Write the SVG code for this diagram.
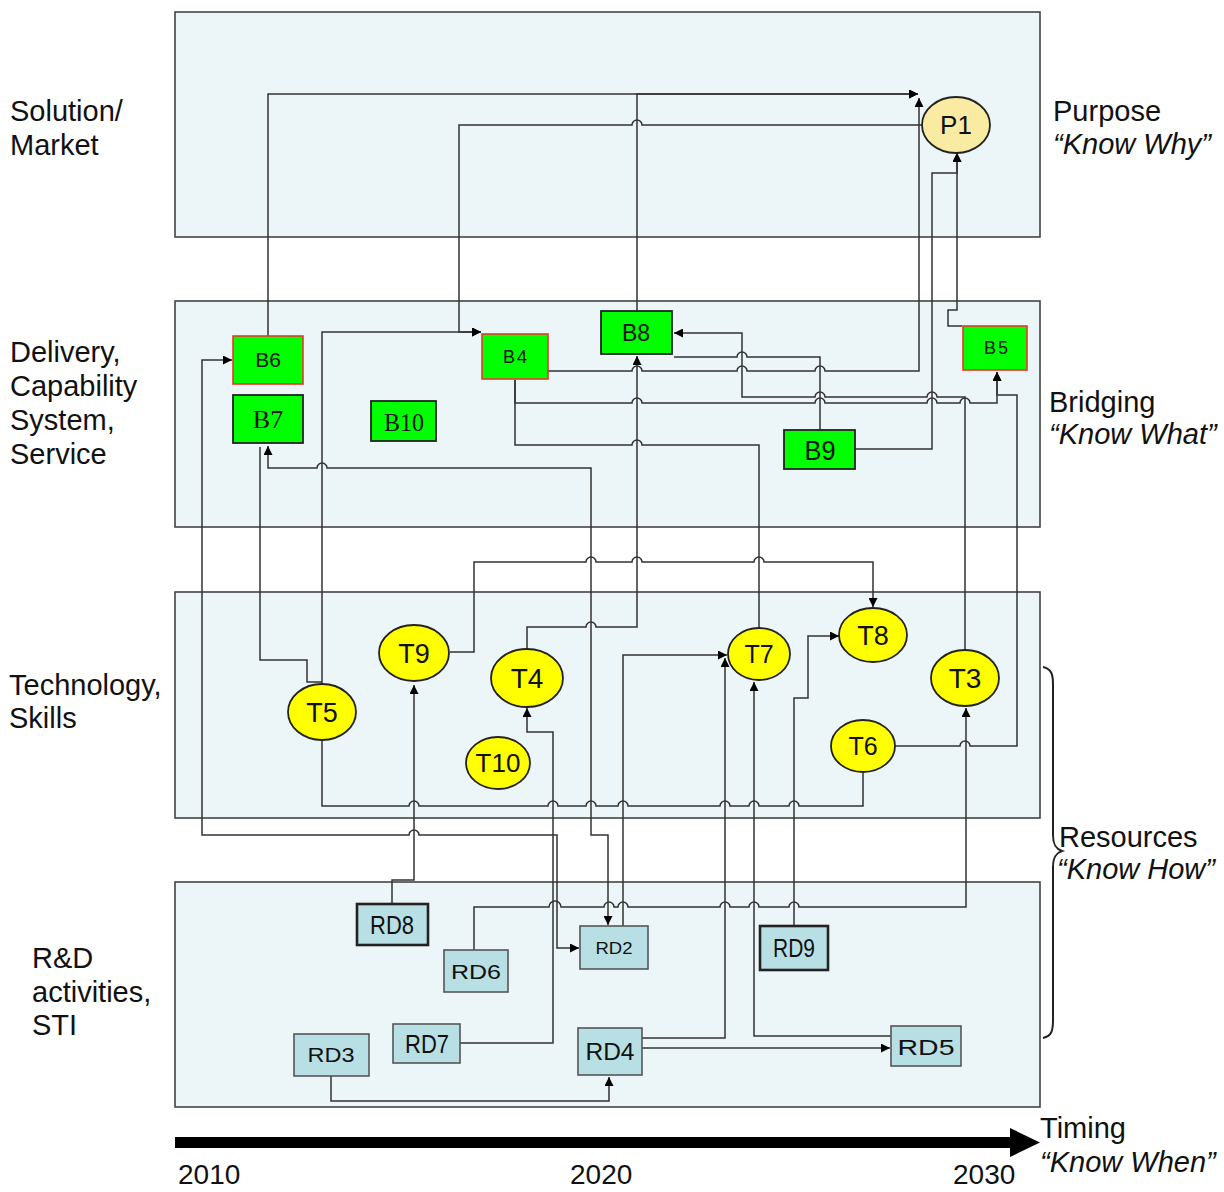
<svg xmlns="http://www.w3.org/2000/svg" width="1224" height="1192" viewBox="0 0 1224 1192">
<defs>
<marker id="ah" viewBox="0 0 10 10" refX="10" refY="5" markerWidth="11" markerHeight="9" orient="auto-start-reverse" markerUnits="userSpaceOnUse"><path d="M0,0 L10,5 L0,10 z" fill="#000"/></marker>
<style>
.band{fill:#ecf5f7;stroke:#444;stroke-width:1.6}
.c{fill:none;stroke:#333;stroke-width:1.5}
.a{marker-end:url(#ah)}
.bi{marker-start:url(#ah);marker-end:url(#ah)}
.lab{font-family:"Liberation Sans",Arial,sans-serif;font-size:29px;fill:#111}
.yr{font-family:"Liberation Sans",Arial,sans-serif;font-size:28px;fill:#111}
.it{font-style:italic}
.bn{fill:#00ff00;stroke:#222;stroke-width:1.8}
.br{fill:#00ff00;stroke:#e8382a;stroke-width:1.6}
.tn{fill:#ffff00;stroke:#222;stroke-width:1.8}
.rd{fill:#b8dfe3;stroke:#555;stroke-width:1.6}
.rdk{fill:#b8dfe3;stroke:#222;stroke-width:2.6}
.t{font-family:"Liberation Sans",Arial,sans-serif;fill:#111;text-anchor:middle}
.s{font-family:"Liberation Serif","Times New Roman",serif;fill:#111;text-anchor:middle}
</style>
</defs>
<rect width="1224" height="1192" fill="#fff"/>
<g id="bands">
<rect class="band" x="175" y="12" width="865" height="225"/>
<rect class="band" x="175" y="301" width="865" height="226"/>
<rect class="band" x="175" y="592" width="865" height="226"/>
<rect class="band" x="175" y="882" width="865" height="225"/>
</g>
<g id="labels">
<text class="lab" x="10" y="121">Solution/</text>
<text class="lab" x="10" y="155">Market</text>
<text class="lab" x="10" y="362">Delivery,</text>
<text class="lab" x="10" y="396">Capability</text>
<text class="lab" x="10" y="430">System,</text>
<text class="lab" x="10" y="464">Service</text>
<text class="lab" x="9" y="695">Technology,</text>
<text class="lab" x="9" y="728">Skills</text>
<text class="lab" x="32" y="968">R&amp;D</text>
<text class="lab" x="32" y="1002">activities,</text>
<text class="lab" x="32" y="1035">STI</text>
<text class="lab" x="1053" y="121">Purpose</text>
<text class="lab it" x="1053" y="154">“Know Why”</text>
<text class="lab" x="1049" y="412">Bridging</text>
<text class="lab it" x="1049" y="444">“Know What”</text>
<text class="lab" x="1059" y="847">Resources</text>
<text class="lab it" x="1057" y="879">“Know How”</text>
<text class="lab" x="1040" y="1138">Timing</text>
<text class="lab it" x="1040" y="1172">“Know When”</text>
<text class="yr" x="178" y="1184">2010</text>
<text class="yr" x="570" y="1184">2020</text>
<text class="yr" x="953" y="1184">2030</text>
</g>
<g id="timeline">
<rect x="175" y="1137" width="837" height="11" fill="#000"/>
<polygon points="1010,1128 1040,1142.5 1010,1157" fill="#000"/>
</g>
<g id="brace">
<path d="M1043,667 C1052,669 1053,675 1053,685 V835 C1053,845 1056,849 1062,851 C1056,853 1053,857 1053,867 V1020 C1053,1030 1052,1036 1043,1038" fill="none" stroke="#222" stroke-width="2"/>
</g>
<g id="connectors">
<path class="c a" d="M268,336 V94 H918"/>
<path class="c a" d="M637,311 V94 H918"/>
<path class="c a" d="M548,371 H632 a5,5 0 0 1 10,0 H737 a5,5 0 0 1 10,0 H815 a5,5 0 0 1 10,0 H919 V98"/>
<path class="c a" d="M922,125 H642 a5,5 0 0 0 -10,0 H459 V332 H481"/>
<path class="c a" d="M322,684 V332 H481"/>
<path class="c" d="M260,447 V660 H307 V682 H322"/>
<path class="c bi" d="M268,446 V468 H317 a5,5 0 0 1 10,0 H591 V835 H608 V925"/>
<path class="c bi" d="M232,360 H202 V835 H409 a5,5 0 0 1 10,0 H557 V948 H579"/>
<path class="c a" d="M450,652 H474 V562 H586 a5,5 0 0 1 10,0 H632 a5,5 0 0 1 10,0 H754 a5,5 0 0 1 10,0 H873 V607"/>
<path class="c a" d="M527,649 V627 H586 a5,5 0 0 1 10,0 H637 V356"/>
<path class="c" d="M759,628 V445 H642 a5,5 0 0 0 -10,0 H515 V380"/>
<path class="c a" d="M515,380 V403 H632 a5,5 0 0 1 10,0 H815 a5,5 0 0 1 10,0 H927 a5,5 0 0 1 10,0 H960 a5,5 0 0 1 10,0 H997 V372"/>
<path class="c a" d="M895,746 H960 a5,5 0 0 1 10,0 H1017 V395 H997 V372"/>
<path class="c a" d="M965,650 V397 H937 a5,5 0 0 0 -10,0 H825 a5,5 0 0 0 -10,0 H742 V333 H674"/>
<path class="c" d="M820,430 V357 H747 a5,5 0 0 0 -10,0 H674"/>
<path class="c a" d="M855,449 H932 V173 H957 V153"/>
<path class="c a" d="M962,326 H948 V310 H957 V153"/>
<path class="c a" d="M392,904 V880 H414 V685"/>
<path class="c" d="M322,741 V806 H409 a5,5 0 0 1 10,0 H548 a5,5 0 0 1 10,0 H586 a5,5 0 0 1 10,0 H618 a5,5 0 0 1 10,0 H720 a5,5 0 0 1 10,0 H749 a5,5 0 0 1 10,0 H789 a5,5 0 0 1 10,0 H863 V772"/>
<path class="c a" d="M460,1043 H553 V732 H527 V708"/>
<path class="c a" d="M623,926 V655 H727"/>
<path class="c a" d="M642,1038 H725 V658"/>
<path class="c a" d="M891,1036 H754 V682"/>
<path class="c a" d="M642,1048 H890"/>
<path class="c a" d="M331,1076 V1101 H609 V1077"/>
<path class="c a" d="M794,926 V698 H808 V636 H839"/>
<path class="c a" d="M474,950 V907 H549 a6,6 0 0 1 12,0 H604 a5,5 0 0 1 10,0 H618 a5,5 0 0 1 10,0 H720 a5,5 0 0 1 10,0 H749 a5,5 0 0 1 10,0 H789 a5,5 0 0 1 10,0 H966 V708"/>
</g>
<g id="P1"><ellipse cx="956" cy="125" rx="34" ry="28" fill="#f9eca2" stroke="#222" stroke-width="1.8"/><text class="t" x="956" y="134" font-size="26">P1</text></g>
<g id="B6"><rect class="br" x="233" y="336" width="70" height="48"/><text class="t" x="268" y="367" font-size="21">B6</text></g>
<g id="B7"><rect class="bn" x="233" y="395" width="70" height="48"/><text class="s" x="268" y="428" font-size="26">B7</text></g>
<g id="B10"><rect class="bn" x="371" y="401" width="65" height="40" stroke-width="2.6"/><text class="s" x="404" y="431" font-size="26" textLength="40" lengthAdjust="spacingAndGlyphs">B10</text></g>
<g id="B4"><rect class="br" x="482" y="334" width="66" height="45"/><text class="t" x="516" y="363" font-size="18" letter-spacing="2">B4</text></g>
<g id="B8"><rect class="bn" x="601" y="311" width="71" height="43"/><text class="t" x="636" y="341" font-size="23">B8</text></g>
<g id="B5"><rect class="br" x="963" y="326" width="64" height="44"/><text class="t" x="997" y="354" font-size="18" letter-spacing="2">B5</text></g>
<g id="B9"><rect class="bn" x="784" y="430" width="71" height="39" stroke-width="2.6"/><text class="t" x="820" y="460" font-size="28" textLength="31" lengthAdjust="spacingAndGlyphs">B9</text></g>
<g id="T5"><ellipse class="tn" cx="322" cy="712" rx="34" ry="28"/><text class="t" x="322" y="722" font-size="27">T5</text></g>
<g id="T9"><ellipse class="tn" cx="414" cy="653" rx="35" ry="28"/><text class="t" x="414" y="663" font-size="27">T9</text></g>
<g id="T4"><ellipse class="tn" cx="527" cy="678" rx="36" ry="29"/><text class="t" x="527" y="688" font-size="28">T4</text></g>
<g id="T10"><ellipse class="tn" cx="498" cy="763" rx="32" ry="26"/><text class="t" x="498" y="772" font-size="26">T10</text></g>
<g id="T7"><ellipse class="tn" cx="759" cy="654" rx="31" ry="26"/><text class="t" x="759" y="663" font-size="25">T7</text></g>
<g id="T8"><ellipse class="tn" cx="873" cy="635" rx="34" ry="27"/><text class="t" x="873" y="645" font-size="27">T8</text></g>
<g id="T3"><ellipse class="tn" cx="965" cy="678" rx="34" ry="28"/><text class="t" x="965" y="688" font-size="28">T3</text></g>
<g id="T6"><ellipse class="tn" cx="863" cy="746" rx="32" ry="26"/><text class="t" x="863" y="755" font-size="25">T6</text></g>
<g id="RD8"><rect class="rdk" x="357" y="904" width="71" height="41"/><text class="t" x="392" y="934" font-size="26" textLength="44" lengthAdjust="spacingAndGlyphs">RD8</text></g>
<g id="RD6"><rect class="rd" x="444" y="950" width="64" height="42"/><text class="t" x="476" y="979" font-size="20" textLength="50" lengthAdjust="spacingAndGlyphs">RD6</text></g>
<g id="RD2"><rect class="rd" x="580" y="926" width="68" height="43"/><text class="t" x="614" y="954" font-size="17" textLength="37" lengthAdjust="spacingAndGlyphs">RD2</text></g>
<g id="RD9"><rect class="rdk" x="760" y="926" width="68" height="44"/><text class="t" x="794" y="957" font-size="26" textLength="42" lengthAdjust="spacingAndGlyphs">RD9</text></g>
<g id="RD3"><rect class="rd" x="294" y="1034" width="75" height="42"/><text class="t" x="331" y="1062" font-size="20" textLength="47" lengthAdjust="spacingAndGlyphs">RD3</text></g>
<g id="RD7"><rect class="rd" x="393" y="1024" width="67" height="39" stroke="#333" stroke-width="2.2"/><text class="t" x="427" y="1053" font-size="26" textLength="44" lengthAdjust="spacingAndGlyphs">RD7</text></g>
<g id="RD4"><rect class="rd" x="578" y="1028" width="64" height="47"/><text class="t" x="610" y="1060" font-size="23" textLength="49" lengthAdjust="spacingAndGlyphs">RD4</text></g>
<g id="RD5"><rect class="rd" x="891" y="1026" width="70" height="40" stroke="#333" stroke-width="2.2"/><text class="t" x="926" y="1055" font-size="22" textLength="57" lengthAdjust="spacingAndGlyphs">RD5</text></g>
</svg>
